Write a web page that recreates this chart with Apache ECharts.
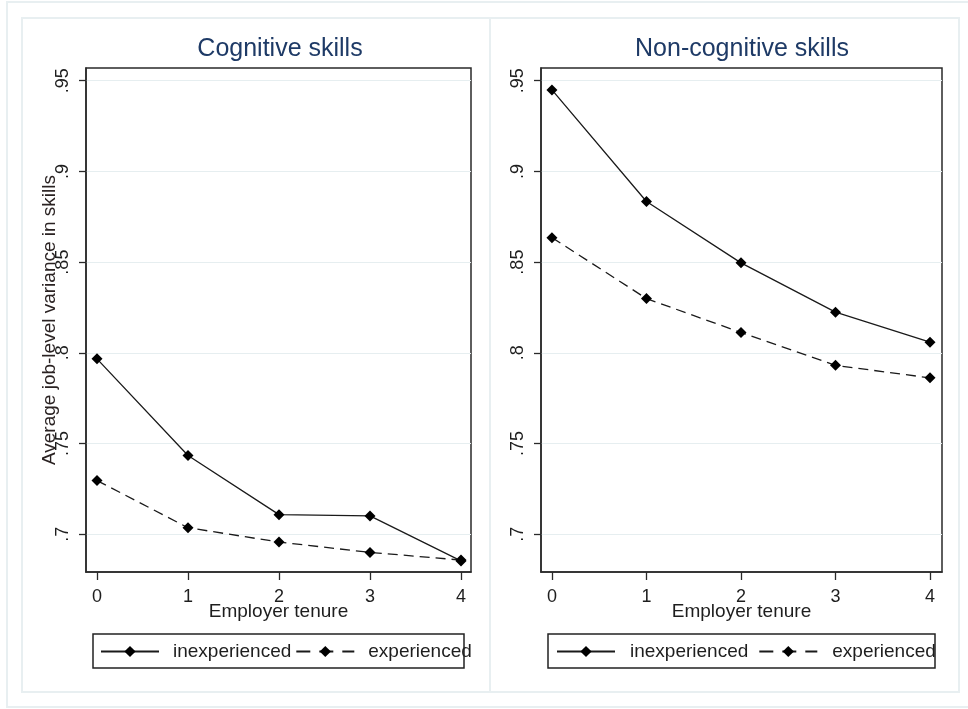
<!DOCTYPE html>
<html><head><meta charset="utf-8">
<script src="https://cdn.jsdelivr.net/npm/echarts@6/dist/echarts.min.js"></script>
<style>html,body{margin:0;padding:0;background:#fff}#c{width:968px;height:709px}</style>
</head><body><div id="c"></div>
<script>
// ---- data ----
const panelTitles = ['Cognitive skills', 'Non-cognitive skills'];
const tenure = [0, 1, 2, 3, 4];
const cogInexperienced = [0.7967, 0.7434, 0.7108, 0.7101, 0.6853];
const cogExperienced = [0.7296, 0.7036, 0.6957, 0.6900, 0.6858];
const noncogInexperienced = [0.9449, 0.8834, 0.8496, 0.8224, 0.8059];
const noncogExperienced = [0.8635, 0.8299, 0.8112, 0.7931, 0.7862];
const yTickValues = [0.7, 0.75, 0.8, 0.85, 0.9, 0.95];
const yTickLabels = ['.7', '.75', '.8', '.85', '.9', '.95'];
const xTickValues = [0, 1, 2, 3, 4];
const seriesNames = ['inexperienced', 'experienced'];
const yTitle = 'Average job-level variance in skills';
const xTitle = 'Employer tenure';

// ---- chart ----
const FONT = 'Liberation Sans, Arial, sans-serif';
const INK = '#1e1e1e';
const chart = echarts.init(document.getElementById('c'), null, {renderer: 'canvas'});

function yFmt(v) {
  for (let i = 0; i < yTickValues.length; i++) {
    if (Math.abs(v - yTickValues[i]) < 1e-6) return yTickLabels[i];
  }
  return '';
}
const pairs = arr => tenure.map((t, i) => [t, arr[i]]);

const grids = [
  {left: 86, top: 68, width: 385, height: 504},
  {left: 541, top: 68, width: 401, height: 504}
];
const xRanges = [[-0.121, 4.11], [-0.116, 4.127]];

function xAxis(i) {
  return {
    type: 'value', gridIndex: i, min: xRanges[i][0], max: xRanges[i][1],
    name: xTitle, nameLocation: 'middle', nameGap: 30, nameMoveOverlap: false,
    nameTextStyle: {fontFamily: FONT, fontSize: 19, color: INK},
    axisLine: {show: true, onZero: false, lineStyle: {color: '#2a2a2a', width: 1.5}},
    axisTick: {show: true, customValues: xTickValues, length: 8, lineStyle: {color: '#2a2a2a', width: 1.3}},
    axisLabel: {customValues: xTickValues, fontFamily: FONT, fontSize: 18, color: INK, margin: 16,
      formatter: v => String(v)},
    splitLine: {show: false}
  };
}
function yAxis(i) {
  return {
    type: 'value', gridIndex: i, min: 0.6792, max: 0.957,
    name: i === 0 ? yTitle : '', nameLocation: 'middle', nameGap: 27, nameMoveOverlap: false,
    nameTextStyle: {fontFamily: FONT, fontSize: 19, color: '#2a2222'},
    axisLine: {show: true, onZero: false, lineStyle: {color: '#2a2a2a', width: 1.5}},
    axisTick: {show: true, customValues: yTickValues, length: 7, lineStyle: {color: '#2a2a2a', width: 1.3}},
    axisLabel: {customValues: yTickValues, rotate: 90, fontFamily: FONT, fontSize: 18, color: INK, margin: 14,
      formatter: yFmt},
    splitLine: {show: true, lineStyle: {color: '#e6eef0', width: 1}}
  };
}
function line(name, data, gi, dashed) {
  return {
    type: 'line', name: name, xAxisIndex: gi, yAxisIndex: gi, data: pairs(data),
    symbol: 'diamond', symbolSize: 11, showSymbol: true,
    lineStyle: {color: '#1a1a1a', width: 1.3, type: dashed ? [10, 6] : 'solid'},
    itemStyle: {color: '#000'},
    z: dashed ? 2 : 3
  };
}
function legendData() {
  return [
    {name: seriesNames[0]},
    {name: seriesNames[1], lineStyle: {type: [14, 9]}}
  ];
}

const option = {
  animation: false,
  backgroundColor: '#fff',
  title: [
    {text: panelTitles[0], left: 280, top: 37, textAlign: 'center', padding: 0,
     textStyle: {fontFamily: FONT, fontSize: 25, fontWeight: 'normal', color: '#1e3a66'}},
    {text: panelTitles[1], left: 742, top: 37, textAlign: 'center', padding: 0,
     textStyle: {fontFamily: FONT, fontSize: 25, fontWeight: 'normal', color: '#1e3a66'}}
  ],
  grid: grids.map(g => Object.assign({show: true, borderColor: '#2a2a2a', borderWidth: 1.5, backgroundColor: 'transparent'}, g)),
  xAxis: [xAxis(0), xAxis(1)],
  yAxis: [yAxis(0), yAxis(1)],
  legend: [
    {data: legendData(), left: 100, top: 642, itemWidth: 58, itemHeight: 14, itemGap: 4, padding: 0,
     textStyle: {fontFamily: FONT, fontSize: 19, color: INK, padding: [0, 0, 0, 9]}, selectedMode: false},
    {data: legendData(), left: 556, top: 642, itemWidth: 58, itemHeight: 14, itemGap: 10, padding: 0,
     textStyle: {fontFamily: FONT, fontSize: 19, color: INK, padding: [0, 0, 0, 10]}, selectedMode: false}
  ],
  graphic: [
    {type: 'rect', z: -10, silent: true, shape: {x: 7, y: 2, width: 980, height: 705}, style: {fill: 'none', stroke: '#e8eff1', lineWidth: 2}},
    {type: 'rect', z: -10, silent: true, shape: {x: 22, y: 18, width: 468, height: 674}, style: {fill: 'none', stroke: '#e8eff1', lineWidth: 2}},
    {type: 'rect', z: -10, silent: true, shape: {x: 490, y: 18, width: 469, height: 674}, style: {fill: 'none', stroke: '#e8eff1', lineWidth: 2}},
    {type: 'rect', z: 100, silent: true, shape: {x: 93, y: 634, width: 371, height: 34}, style: {fill: 'none', stroke: '#222', lineWidth: 1.5}},
    {type: 'rect', z: 100, silent: true, shape: {x: 548, y: 634, width: 387, height: 34}, style: {fill: 'none', stroke: '#222', lineWidth: 1.5}}
  ],
  series: [
    line(seriesNames[0], cogInexperienced, 0, false),
    line(seriesNames[1], cogExperienced, 0, true),
    line(seriesNames[0], noncogInexperienced, 1, false),
    line(seriesNames[1], noncogExperienced, 1, true)
  ]
};
chart.setOption(option);
</script></body></html>
